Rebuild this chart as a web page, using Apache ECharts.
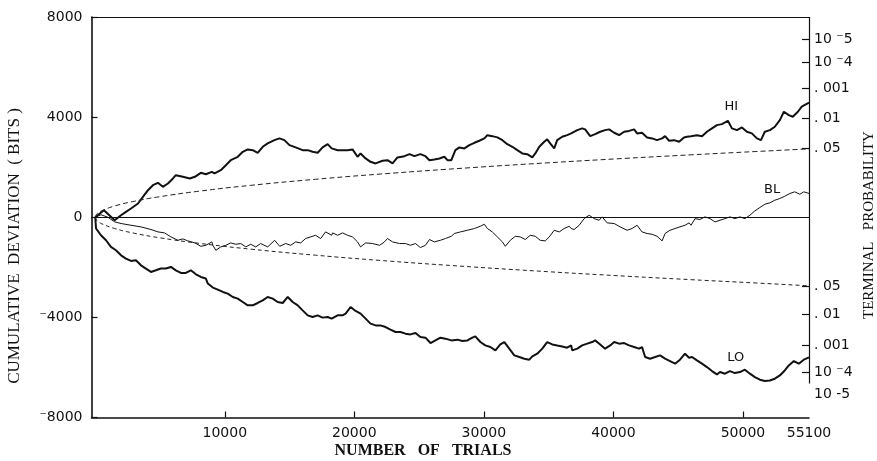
<!DOCTYPE html>
<html>
<head>
<meta charset="utf-8">
<script src="https://cdn.jsdelivr.net/npm/echarts@6/dist/echarts.min.js"></script>
<style>
html,body{margin:0;padding:0;background:#fff;}
#chart{width:877px;height:461px;}
</style>
</head>
<body>
<div id="chart"></div>
<script>
// ---- data ----
const trialTickValues = [10000, 20000, 30000, 40000, 50000];
const trialLabelValues = [10000, 20000, 30000, 40000, 50000, 55100];
const deviationTicks = [-8000, -4000, 0, 4000, 8000];
const probValues = [7100, 6200, 5140, 3940, 2750, -2750, -3860, -5120, -6190, -7080];
const probLabels = ['10 \u207B5', '10 \u207B4', '. 001', '. 01', '. 05', '. 05', '. 01', '. 001', '10 \u207B4', '10 -5'];
const probTickValues = [7100, 6200, 5140, 3940, 2750, -2750, -3860, -5120, -6190];
const rightAxisExtent = [8000, -6640];

const hiData = [[0,0],[670,280],[1500,-120],[1990,80],[2370,215],[2760,350],[3300,550],[3680,815],[4070,1080],[4450,1280],[4840,1375],[5220,1215],[5610,1350],[6000,1550],[6220,1680],[6760,1615],[7300,1550],[7690,1615],[8150,1775],[8540,1720],[9000,1815],
[9210,1750],[9690,1880],[10080,2080],[10460,2280],[11000,2415],[11390,2615],[11770,2710],[12160,2680],[12540,2575],[12930,2815],[13310,2950],[13830,3080],[14220,3150],[14600,3080],[14990,2880],[15470,2790],[16010,2680],[16400,2680],[16780,2615],[17170,2575],[17550,2790],[17940,2920],[18250,2750],
[18710,2680],[19090,2680],[19480,2680],[19860,2710],[20250,2415],[20480,2550],[20870,2350],[21250,2215],[21640,2150],[22180,2255],[22560,2280],[22950,2150],[23330,2390],[23870,2440],[24260,2520],[24640,2440],[25100,2520],[25490,2440],[25800,2280],[26180,2310],[26570,2350],[26950,2415],[27190,2280],[27490,2280],
[27570,2280],[27800,2680],[28110,2790],[28500,2750],[28880,2880],[29270,2975],[29650,3055],[30040,3150],[30270,3280],[30650,3240],[31040,3190],[31430,3080],[31810,2920],[32200,2815],[32580,2680],[32970,2550],[33350,2520],[33740,2390],[33970,2550],[34280,2815],[34660,3015],[34890,3110],[35120,2950],[35430,2750],[35660,3080],[36050,3215],[36430,3280],[36740,3350],
[37210,3480],[37590,3550],[37820,3510],[38210,3240],[38590,3320],[38980,3415],[39360,3480],[39670,3510],[40060,3375],[40440,3280],[40830,3415],[41210,3450],[41600,3510],[41830,3350],[42210,3375],[42600,3190],[42990,3150],[43370,3080],[43760,3150],[43990,3240],[44300,3055],[44680,3080],[45070,3015],[45450,3190],[45680,3215],[45990,3240],
[46070,3215],[46450,3280],[46840,3240],[47220,3415],[47610,3550],[47990,3680],[48380,3720],[48840,3855],[49150,3550],[49540,3480],[49920,3590],[50310,3415],[50690,3350],[51080,3150],[51390,3080],[51690,3415],[52080,3480],[52460,3615],[52850,3880],[53160,4215],[53540,4080],[53850,4015],[54240,4215],[54540,4415],[55100,4580]];

const blData = [[0,0],[440,100],[980,0],[1500,-185],[1990,-250],[2760,-320],[3530,-385],[4300,-490],[4840,-585],[5350,-625],[5840,-785],[6380,-920],[6760,-865],[7150,-945],[7690,-1025],[8150,-1160],[8540,-1120],[9000,-985],
[9080,-1120],[9310,-1320],[9690,-1185],[10080,-1120],[10460,-1025],[10850,-1080],[11230,-1050],[11620,-1185],[12000,-1080],[12390,-1185],[12770,-1050],[13310,-1185],[13850,-920],[14240,-1160],[14700,-1050],[15090,-1120],[15470,-985],[15860,-1025],[16240,-850],[16630,-785],[17010,-720],[17400,-850],[17780,-585],[18250,-720],
[18320,-625],[18710,-720],[19090,-625],[19480,-720],[19860,-785],[20250,-985],[20480,-1185],[20870,-1025],[21410,-1050],[21950,-1120],[22330,-985],[22560,-850],[22950,-985],[23490,-1050],[23950,-1050],[24330,-1120],[24720,-1050],[25100,-1210],[25490,-1120],[25800,-890],[26180,-985],[26650,-920],[27030,-850],[27490,-760],
[27720,-650],[28190,-585],[28730,-520],[29270,-450],[29730,-360],[30040,-280],[30270,-450],[30650,-585],[31040,-785],[31430,-985],[31660,-1160],[32040,-920],[32430,-760],[32810,-785],[33200,-890],[33580,-720],[33970,-760],[34350,-920],[34740,-945],[35050,-785],[35430,-520],[35820,-585],[36200,-450],[36590,-360],[36740,-450],
[36970,-490],[37360,-320],[37740,-55],[38130,80],[38520,-55],[38900,-120],[39130,15],[39520,-225],[40060,-250],[40520,-385],[41060,-520],[41440,-450],[41830,-320],[42210,-585],[42600,-650],[42990,-680],[43370,-760],[43760,-945],[43990,-650],[44370,-520],[44760,-450],[45140,-385],[45530,-320],[45840,-225],[45990,-320],
[46070,-250],[46300,-55],[46680,-90],[47070,15],[47460,-55],[47840,-185],[48230,-120],[48610,-55],[49000,15],[49380,-55],[49770,15],[50150,-55],[50540,80],[50920,255],[51310,390],[51690,520],[52080,575],[52460,680],[52850,750],[53230,840],[53620,950],[54000,1015],[54390,920],[54700,1015],[55100,950]];

const loData = [[0,0],[60,-450],[440,-720],[830,-920],[1210,-1185],[1600,-1320],[1990,-1520],[2370,-1650],[2760,-1745],[3140,-1720],[3530,-1920],[3910,-2050],[4300,-2185],[4680,-2120],[5070,-2050],[5450,-2050],[5840,-1985],[6220,-2120],[6610,-2225],[6990,-2225],[7380,-2120],[7770,-2280],[8150,-2385],[8540,-2450],
[8690,-2650],[9080,-2810],[9460,-2890],[9850,-2985],[10230,-3050],[10620,-3185],[11000,-3250],[11390,-3385],[11770,-3520],[12160,-3520],[12540,-3425],[12930,-3320],[13310,-3185],[13700,-3250],[14080,-3385],[14470,-3425],[14860,-3185],[15240,-3385],[15630,-3520],[16010,-3720],[16400,-3920],[16780,-3985],[17170,-3920],[17550,-4010],[17940,-3985],[18250,-4050],
[18320,-3985],[18710,-3920],[19090,-3920],[19330,-3850],[19710,-3585],[20100,-3745],[20480,-3850],[20870,-4050],[21250,-4250],[21640,-4320],[22020,-4320],[22410,-4385],[22790,-4490],[23180,-4585],[23560,-4585],[23950,-4650],[24330,-4680],[24720,-4625],[25100,-4785],[25490,-4810],[25880,-5025],[26260,-4920],[26650,-4810],[27030,-4850],[27490,-4920],
[27570,-4945],[27960,-4890],[28340,-4945],[28730,-4920],[29110,-4810],[29340,-4760],[29730,-4985],[30110,-5120],[30500,-5185],[30890,-5320],[31270,-5080],[31580,-4985],[31960,-5250],[32350,-5520],[32740,-5585],[33120,-5650],[33510,-5690],[33740,-5560],[34120,-5450],[34510,-5250],[34890,-4985],[35280,-5080],[35660,-5120],[36050,-5160],[36430,-5210],[36740,-5120],
[36820,-5320],[37210,-5250],[37590,-5120],[37980,-5050],[38360,-4985],[38590,-4920],[38980,-5080],[39360,-5250],[39750,-5120],[40060,-4985],[40440,-5050],[40830,-5025],[41210,-5120],[41600,-5185],[41980,-5250],[42210,-5185],[42450,-5585],[42830,-5650],[43220,-5585],[43600,-5520],[43990,-5650],[44370,-5745],[44760,-5850],[45140,-5690],[45530,-5450],[45840,-5610],[45990,-5585],
[46070,-5585],[46450,-5720],[46840,-5850],[47220,-5985],[47610,-6145],[47990,-6280],[48230,-6185],[48610,-6250],[49000,-6145],[49380,-6225],[49770,-6185],[50150,-6090],[50540,-6250],[50920,-6385],[51310,-6490],[51690,-6545],[52080,-6520],[52460,-6450],[52850,-6320],[53230,-6120],[53540,-5920],[53930,-5745],[54310,-5850],[54700,-5690],[55100,-5600]];

const envTrials = [0, 100, 250, 500, 1500, 3000, 5000, 8000, 12000, 17000, 22000, 28000, 34000, 40000, 46000, 51000, 55100];
const envUpper = [0, 116, 184, 260, 450, 637, 822, 1040, 1274, 1516, 1725, 1946, 2145, 2326, 2494, 2626, 2730];
const envLower = [0, -116, -184, -260, -450, -637, -822, -1040, -1274, -1516, -1725, -1946, -2145, -2326, -2494, -2626, -2740];

const seriesNames = ['HI', 'BL', 'LO'];
const seriesLabelPos = [[49100, 4400], [52250, 1120], [49450, -5600]];

// ---- chart ----
const chart = echarts.init(document.getElementById('chart'), null, {renderer: 'canvas'});
const numFont = 'DejaVu Sans';
const ink = '#111';
const xMax = trialLabelValues[trialLabelValues.length - 1];

function labelMark(name, pos) {
  return {
    symbol: 'circle', symbolSize: 1, silent: true,
    itemStyle: {color: 'rgba(0,0,0,0)'},
    label: {show: true, position: 'inside', formatter: name, color: ink, fontFamily: numFont, fontSize: 13},
    data: [{coord: pos}]
  };
}

const option = {
  animation: false,
  backgroundColor: '#fff',
  grid: {left: 91.5, right: 68, top: 17, bottom: 43.5, show: false},
  xAxis: [{
    type: 'value', min: -290, max: xMax, position: 'bottom',
    axisLine: {show: true, onZero: false, lineStyle: {color: ink, width: 1.5}},
    axisTick: {show: true, inside: true, length: 6, customValues: trialTickValues, lineStyle: {color: ink, width: 1.2}},
    axisLabel: {customValues: trialLabelValues, formatter: v => String(v), fontFamily: numFont, fontSize: 14, color: ink, margin: 9},
    splitLine: {show: false}
  }, {
    type: 'value', min: -290, max: xMax, position: 'top',
    axisLine: {show: true, onZero: false, lineStyle: {color: ink, width: 1.2}},
    axisTick: {show: false}, axisLabel: {show: false}, splitLine: {show: false}
  }],
  yAxis: [{
    type: 'value', min: deviationTicks[0], max: deviationTicks[deviationTicks.length - 1], interval: 4000, position: 'left',
    axisLine: {show: true, onZero: false, lineStyle: {color: ink, width: 1.6}},
    axisTick: {show: true, inside: true, length: 6, lineStyle: {color: ink, width: 1.2}},
    axisLabel: {formatter: v => v < 0 ? '\u207B' + (-v) : String(v), fontFamily: numFont, fontSize: 14, color: ink, margin: 9},
    splitLine: {show: false}
  }, {
    type: 'value', min: deviationTicks[0], max: deviationTicks[deviationTicks.length - 1], position: 'right',
    axisLine: {show: false, onZero: false},
    axisTick: {show: true, inside: true, length: 7, customValues: probTickValues, lineStyle: {color: ink, width: 1.2}},
    axisLabel: {customValues: probValues, formatter: v => { const i = probValues.indexOf(v); return i >= 0 ? probLabels[i] : ''; }, fontFamily: numFont, fontSize: 14, color: ink, margin: 5},
    splitLine: {show: false}
  }],
  series: [
    {name: 'HI', type: 'line', data: hiData, symbol: 'none', lineStyle: {color: ink, width: 2}, z: 3,
     markPoint: labelMark(seriesNames[0], seriesLabelPos[0]),
     markLine: {silent: true, symbol: 'none', label: {show: false}, lineStyle: {color: ink, width: 1.2, type: 'solid'},
       data: [{yAxis: 0}, [{coord: [xMax, rightAxisExtent[0]]}, {coord: [xMax, rightAxisExtent[1]]}]]}},
    {name: 'BL', type: 'line', data: blData, symbol: 'none', lineStyle: {color: ink, width: 1}, z: 3,
     markPoint: labelMark(seriesNames[1], seriesLabelPos[1])},
    {name: 'LO', type: 'line', data: loData, symbol: 'none', lineStyle: {color: ink, width: 2}, z: 3,
     markPoint: labelMark(seriesNames[2], seriesLabelPos[2])},
    {name: 'upper', type: 'line', data: envTrials.map((t, i) => [t, envUpper[i]]), symbol: 'none', smooth: true,
     lineStyle: {color: '#222', width: 1, type: [5, 3]}},
    {name: 'lower', type: 'line', data: envTrials.map((t, i) => [t, envLower[i]]), symbol: 'none', smooth: true,
     lineStyle: {color: '#222', width: 1, type: [4, 3]}}
  ],
  graphic: [
    {type: 'text', x: 15, y: 246, rotation: Math.PI / 2,
     style: {text: 'CUMULATIVE  DEVIATION  ( BITS )', font: '17px "Liberation Serif"', fill: ink, textAlign: 'center', textVerticalAlign: 'middle'}},
    {type: 'text', x: 423, y: 451,
     style: {text: 'NUMBER   OF   TRIALS', font: 'bold 16px "Liberation Serif"', fill: ink, textAlign: 'center', textVerticalAlign: 'middle'}},
    {type: 'text', x: 869, y: 225, rotation: Math.PI / 2,
     style: {text: 'TERMINAL   PROBABILITY', font: '15px "Liberation Serif"', fill: ink, textAlign: 'center', textVerticalAlign: 'middle'}}
  ]
};
chart.setOption(option);
</script>
</body>
</html>
